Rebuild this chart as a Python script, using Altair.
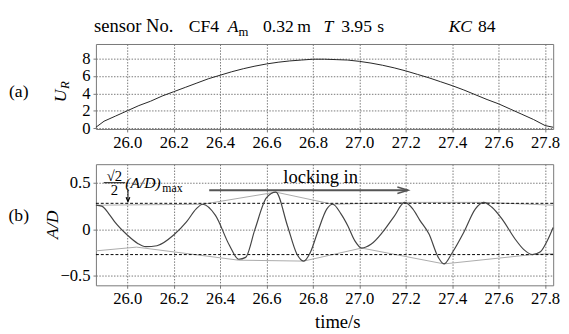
import altair as alt
import pandas as pd

SERIF = "Liberation Serif"

# ---------------- data ----------------
x_ticks = [26.0, 26.2, 26.4, 26.6, 26.8, 27.0, 27.2, 27.4, 27.6, 27.8]
x_domain = [25.865, 27.835]

t_U = [25.865, 25.9, 25.95, 26.0, 26.05, 26.1, 26.15, 26.2, 26.25, 26.3, 26.35, 26.4,
       26.45, 26.5, 26.55, 26.6, 26.65, 26.7, 26.75, 26.8, 26.85, 26.9, 26.95, 27.0,
       27.05, 27.1, 27.15, 27.2, 27.25, 27.3, 27.35, 27.4, 27.45, 27.5, 27.55, 27.6,
       27.65, 27.7, 27.75, 27.8, 27.835]
U_R = [0.1, 0.8, 1.4, 2.0, 2.6, 3.1, 3.7, 4.2, 4.7, 5.2, 5.7, 6.1,
       6.5, 6.85, 7.15, 7.4, 7.6, 7.75, 7.85, 7.95, 7.95, 7.9, 7.85, 7.7,
       7.5, 7.25, 6.95, 6.6, 6.2, 5.8, 5.35, 4.9, 4.4, 3.85, 3.3, 2.8,
       2.2, 1.6, 1.0, 0.3, 0.1]

t_AD = [25.865, 25.89, 25.92, 25.946, 26.0, 26.045, 26.08, 26.128, 26.2, 26.255, 26.297,
        26.325, 26.38, 26.44, 26.48, 26.51, 26.55, 26.60, 26.64, 26.69, 26.73, 26.76,
        26.79, 26.82, 26.86, 26.885, 26.92, 26.95, 26.98, 27.01, 27.05, 27.10, 27.15,
        27.195, 27.23, 27.26, 27.30, 27.34, 27.365, 27.40, 27.45, 27.50, 27.535, 27.57,
        27.615, 27.67, 27.71, 27.745, 27.78, 27.81, 27.835]
AD = [0.26, 0.25, 0.17, 0.08, -0.06, -0.15, -0.185, -0.175, -0.06, 0.08, 0.22,
      0.27, 0.15, -0.17, -0.32, -0.30, 0.0, 0.34, 0.40, 0.04, -0.26, -0.34,
      -0.24, -0.03, 0.22, 0.27, 0.17, 0.04, -0.12, -0.20, -0.16, -0.03, 0.14,
      0.29, 0.22, 0.10, -0.05, -0.30, -0.37, -0.25, -0.03, 0.22, 0.29, 0.24,
      0.11, -0.10, -0.22, -0.27, -0.24, -0.12, 0.02]

t_up = [25.865, 26.325, 26.64, 26.885, 27.195, 27.535, 27.835]
AD_up = [0.26, 0.27, 0.40, 0.27, 0.29, 0.29, 0.26]
t_lo = [25.865, 26.04, 26.48, 26.76, 27.01, 27.365, 27.745, 27.835]
AD_lo = [-0.23, -0.19, -0.33, -0.34, -0.20, -0.37, -0.27, -0.26]

levels = [0.28, -0.27]
lock_t = [26.353, 27.21]
lock_y = 0.42
mark_t = 26.003
mark_y = [0.43, 0.30]

one = pd.DataFrame({"v": [0]})

AX = dict(
    labelFont=SERIF, labelFontSize=17, labelColor="black", labelPadding=3,
    grid=True, gridColor="#777", gridDash=[1.5, 1.5], gridWidth=1,
    domain=False, tickColor="#777", tickSize=3,
)
VIEW = alt.ViewBackground(stroke="#777", strokeWidth=1)


def txt(s, x, y, size=17, style="normal", angle=0, align="left", baseline="middle"):
    return alt.Chart(one).mark_text(
        text=s, font=SERIF, fontSize=size, fontStyle=style, angle=angle,
        align=align, baseline=baseline, color="black"
    ).encode(x=alt.value(x), y=alt.value(y))


xscale = alt.Scale(domain=x_domain, nice=False, zero=False)

# ---------------- top panel ----------------
dU = pd.DataFrame({"t": t_U, "U": U_R})
lineU = alt.Chart(dU).mark_line(color="#222", strokeWidth=1).encode(
    x=alt.X("t:Q", scale=xscale, axis=alt.Axis(values=x_ticks, format=".1f", title=None, **AX)),
    y=alt.Y("U:Q", scale=alt.Scale(domain=[-0.1, 9.7], nice=False),
            axis=alt.Axis(values=[0, 2, 4, 6, 8], format="d", title=None, **AX)),
)

TS = 18
title_parts = [
    txt("sensor No.", -2, -12, 19, baseline="alphabetic"),
    txt("CF4", 95, -12, TS, baseline="alphabetic"),
    txt("A", 135, -12, TS, "italic", baseline="alphabetic"),
    txt("m", 146, -8, 13, baseline="alphabetic"),
    txt("0.32", 171, -12, TS, baseline="alphabetic"),
    txt("m", 206, -12, TS, baseline="alphabetic"),
    txt("T", 233, -12, TS, "italic", baseline="alphabetic"),
    txt("3.95", 251, -12, TS, baseline="alphabetic"),
    txt("s", 288, -12, TS, baseline="alphabetic"),
    txt("KC", 361, -12, TS, "italic", baseline="alphabetic"),
    txt("84", 391, -12, TS, baseline="alphabetic"),
]
top_labels = [
    txt("(a)", -79, 49, 18, align="center"),
    txt("U", -36, 53, 18, "italic", angle=270, align="center"),
    txt("R", -32, 42, 13, "italic", angle=270, align="center"),
]
top = alt.layer(lineU, *title_parts, *top_labels).properties(width=468, height=87, view=VIEW)

# ---------------- bottom panel ----------------
yscaleB = alt.Scale(domain=[-0.6, 0.7], nice=False)
dA = pd.DataFrame({"t": t_AD, "a": AD})
dUp = pd.DataFrame({"t": t_up, "a": AD_up})
dLo = pd.DataFrame({"t": t_lo, "a": AD_lo})

lineA = alt.Chart(dA).mark_line(color="#444", strokeWidth=1.2, interpolate="monotone").encode(
    x=alt.X("t:Q", scale=xscale,
            axis=alt.Axis(values=x_ticks, format=".1f", title="time/s", titleX=247,
                          titleFont=SERIF, titleFontSize=19, titleFontWeight="normal",
                          titleColor="black", titlePadding=6, **AX)),
    y=alt.Y("a:Q", scale=yscaleB,
            axis=alt.Axis(values=[-0.5, 0, 0.5], format="~g", title=None, **AX)),
)
envU = alt.Chart(dUp).mark_line(color="#aaa", strokeWidth=1).encode(x="t:Q", y="a:Q")
envL = alt.Chart(dLo).mark_line(color="#aaa", strokeWidth=1).encode(x="t:Q", y="a:Q")

dLev = pd.DataFrame({"lev": levels})
levRules = alt.Chart(dLev).mark_rule(color="black", strokeDash=[3, 2], strokeWidth=1).encode(
    y=alt.Y("lev:Q", scale=yscaleB)
)

dLock = pd.DataFrame({"t0": [lock_t[0]], "t1": [lock_t[1]], "y": [lock_y]})
lockRule = alt.Chart(dLock).mark_rule(color="#555", strokeWidth=2).encode(
    x="t0:Q", x2="t1:Q", y="y:Q"
)
lockHead = alt.Chart(dLock).mark_point(
    shape="M-2,-0.6L0,0L-2,0.6", filled=False, color="#555", strokeWidth=1.5,
    size=121, opacity=1
).encode(x="t1:Q", y="y:Q")

dMark = pd.DataFrame({"t": [mark_t], "y0": [mark_y[0]], "y1": [mark_y[1]]})
markRule = alt.Chart(dMark).mark_rule(color="black", strokeWidth=1).encode(
    x="t:Q", y="y0:Q", y2="y1:Q"
)
markHead = alt.Chart(dMark).mark_point(
    shape="M-0.7,-1.6L0,0L0.7,-1.6", filled=False, color="black", strokeWidth=1.2,
    size=30, opacity=1
).encode(x="t:Q", y="y1:Q")

bot_labels = [
    txt("(b)", -79, 53, 18, align="center"),
    txt("A/D", -44, 62, 18, "italic", angle=270, align="center"),
    txt("locking in", 230, 13, 19, align="center"),
    txt("\u221a2", 19, 12, 15, align="center"),
    txt("2", 19, 27, 15, align="center"),
    txt("(A/D)", 30, 19, 16, "italic"),
    txt("max", 68, 24, 12),
]
frac = alt.Chart(one).mark_rule(color="black", strokeWidth=1).encode(
    x=alt.value(8), x2=alt.value(30), y=alt.value(19)
)

bottom = alt.layer(
    envU, envL, levRules, lineA, lockRule, lockHead, markRule, markHead,
    frac, *bot_labels
).properties(width=468, height=124, view=VIEW)

chart = alt.vconcat(top, bottom, spacing=12).properties(
    padding={"left": 0, "top": 5, "right": 0, "bottom": 0}
)

chart.save("out.html", embed_options={"renderer": "svg", "actions": False})
